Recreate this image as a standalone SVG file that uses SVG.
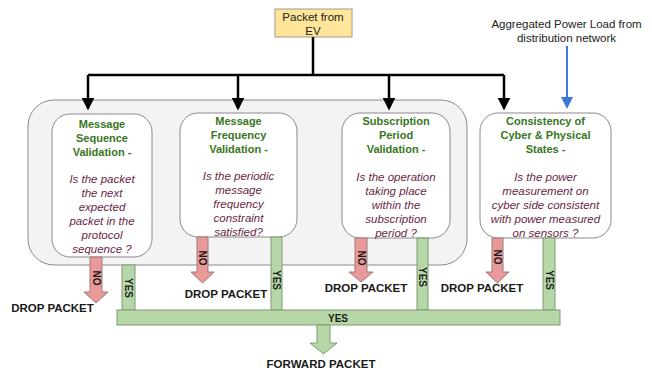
<svg xmlns="http://www.w3.org/2000/svg" width="652" height="372" viewBox="0 0 652 372">
<defs>
<style>
.node{fill:#ffffff;stroke:#8a8a8a;stroke-width:1}
.t{font-family:"Liberation Sans",Arial,sans-serif;font-size:11px;font-weight:bold;fill:#38761d;text-anchor:middle}
.q{font-family:"Liberation Sans",Arial,sans-serif;font-size:11.5px;font-style:italic;fill:#6a1f45;text-anchor:middle}
.lbl{font-family:"Liberation Sans",Arial,sans-serif;font-size:11.5px;fill:#222;text-anchor:middle}
.drop{font-family:"Liberation Sans",Arial,sans-serif;font-size:11.5px;font-weight:bold;fill:#1a1a1a;text-anchor:middle}
.small{font-family:"Liberation Sans",Arial,sans-serif;font-size:10px;font-weight:bold;fill:#1a1a1a;text-anchor:middle}
.no{fill:#ea9999;stroke:#9a7a7a;stroke-width:1}
.yes{fill:#b6d7a8;stroke:#7f9a72;stroke-width:1}
.wire{fill:none;stroke:#000;stroke-width:2.5}
</style>
<marker id="ah" markerWidth="5" markerHeight="5" refX="4" refY="2.5" orient="auto" markerUnits="strokeWidth"><path d="M0,0 L5,2.5 L0,5 Z" fill="#000"/></marker>
<marker id="ahb" markerWidth="6" markerHeight="6" refX="5" refY="3" orient="auto" markerUnits="strokeWidth"><path d="M0,0 L6,3 L0,6 Z" fill="#3c78d8"/></marker>
</defs>
<rect x="28" y="100" width="439" height="165" rx="26" fill="#f3f3f3" stroke="#8a8a8a" stroke-width="1"/>
<g id="packet">
<rect x="275" y="9" width="77" height="28" fill="#ffe599" stroke="#a09a8a" stroke-width="1"/>
<text class="lbl" x="313" y="21">Packet from</text>
<text class="lbl" x="313" y="35">EV</text>
</g>
<g id="aggregated">
<text class="lbl" x="566.5" y="28">Aggregated Power Load from</text>
<text class="lbl" x="566.5" y="42">distribution network</text>
</g>
<g id="connectors">
<path class="wire" d="M313,37 V75"/>
<path class="wire" d="M88,75 H504"/>
<path class="wire" d="M88,75 V108" marker-end="url(#ah)"/>
<path class="wire" d="M238,75 V108" marker-end="url(#ah)"/>
<path class="wire" d="M389,75 V108" marker-end="url(#ah)"/>
<path class="wire" d="M504,75 V108" marker-end="url(#ah)"/>
<path d="M567,46 V107" fill="none" stroke="#3c78d8" stroke-width="2" marker-end="url(#ahb)"/>
</g>
<g id="n1">
<rect class="node" x="52" y="114" width="100" height="143" rx="18"/>
<text class="t" x="102" y="128">Message</text>
<text class="t" x="102" y="142">Sequence</text>
<text class="t" x="102" y="156">Validation -</text>
<text class="q" x="102" y="183">Is the packet</text>
<text class="q" x="102" y="197">the next</text>
<text class="q" x="102" y="211">expected</text>
<text class="q" x="102" y="225">packet in the</text>
<text class="q" x="102" y="239">protocol</text>
<text class="q" x="102" y="253">sequence ?</text>
</g>
<g id="n2">
<rect class="node" x="180" y="113" width="117" height="124" rx="18"/>
<text class="t" x="238.5" y="125">Message</text>
<text class="t" x="238.5" y="139">Frequency</text>
<text class="t" x="238.5" y="153">Validation -</text>
<text class="q" x="238.5" y="180">Is the periodic</text>
<text class="q" x="238.5" y="194">message</text>
<text class="q" x="238.5" y="208">frequency</text>
<text class="q" x="238.5" y="222">constraint</text>
<text class="q" x="238.5" y="236">satisfied?</text>
</g>
<g id="n3">
<rect class="node" x="342" y="113" width="108" height="125" rx="18"/>
<text class="t" x="396" y="125">Subscription</text>
<text class="t" x="396" y="139">Period</text>
<text class="t" x="396" y="153">Validation -</text>
<text class="q" x="396" y="181">Is the operation</text>
<text class="q" x="396" y="195">taking place</text>
<text class="q" x="396" y="209">within the</text>
<text class="q" x="396" y="223">subscription</text>
<text class="q" x="396" y="237">period ?</text>
</g>
<g id="n4">
<rect class="node" x="480" y="113" width="131" height="125" rx="18"/>
<text class="t" x="545.5" y="125">Consistency of</text>
<text class="t" x="545.5" y="139">Cyber &amp; Physical</text>
<text class="t" x="545.5" y="153">States -</text>
<text class="q" x="545.5" y="181">Is the power</text>
<text class="q" x="545.5" y="195">measurement on</text>
<text class="q" x="545.5" y="209">cyber side consistent</text>
<text class="q" x="545.5" y="223">with power measured</text>
<text class="q" x="545.5" y="237">on sensors ?</text>
</g>
<g id="no-branches">
<polygon class="no" points="90,257 102,257 102,292 108,292 96,303 84,292 90,292"/>
<text class="small" transform="translate(96,278) rotate(90)" y="3.5">NO</text>
<polygon class="no" points="197,237 208,237 208,272 214,272 202.5,283 191,272 197,272"/>
<text class="small" transform="translate(202.5,258) rotate(90)" y="3.5">NO</text>
<polygon class="no" points="355,238 367,238 367,272 373,272 361,282 349,272 355,272"/>
<text class="small" transform="translate(361,258) rotate(90)" y="3.5">NO</text>
<polygon class="no" points="492,238 503,238 503,272 509,272 497.5,283 486,272 492,272"/>
<text class="small" transform="translate(497.5,257) rotate(90)" y="3.5">NO</text>
</g>
<g id="drop-labels">
<text class="drop" x="52.5" y="312">DROP PACKET</text>
<text class="drop" x="226" y="298">DROP PACKET</text>
<text class="drop" x="366" y="292">DROP PACKET</text>
<text class="drop" x="482" y="292">DROP PACKET</text>
</g>
<g id="yes-branches">
<rect class="yes" x="122" y="265" width="13" height="45"/>
<text class="small" transform="translate(128.5,288) rotate(90)" y="3.5">YES</text>
<rect class="yes" x="271" y="237" width="11" height="73"/>
<text class="small" transform="translate(276.5,280) rotate(90)" y="3.5">YES</text>
<rect class="yes" x="417" y="238" width="11" height="72"/>
<text class="small" transform="translate(422.5,277) rotate(90)" y="3.5">YES</text>
<rect class="yes" x="543" y="238" width="12" height="72"/>
<text class="small" transform="translate(549,280) rotate(90)" y="3.5">YES</text>
<rect class="yes" x="117" y="310" width="443" height="15"/>
<text class="small" x="338" y="321.5">YES</text>
<polygon class="yes" points="317,325 330,325 330,343 337,343 323.5,354 310,343 317,343"/>
</g>
<g id="forward">
<text class="drop" x="321" y="368">FORWARD PACKET</text>
</g>
</svg>
